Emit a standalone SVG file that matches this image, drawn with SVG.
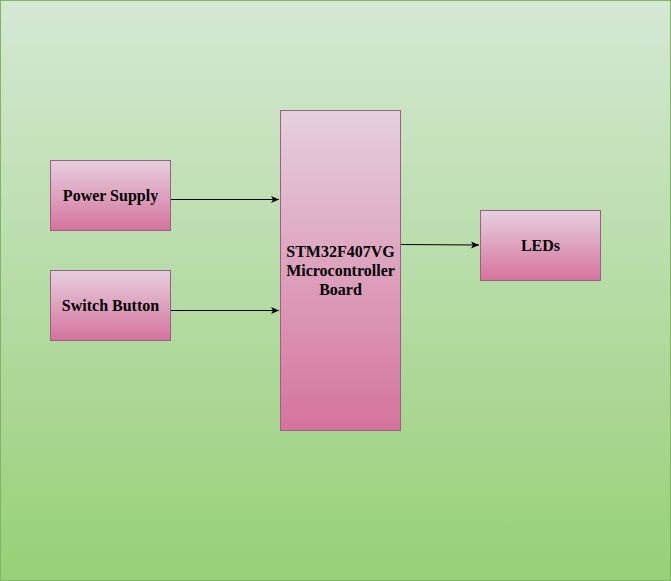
<svg xmlns="http://www.w3.org/2000/svg" width="671" height="581" viewBox="0 0 671 581">
<defs>
<linearGradient id="bg" x1="0" y1="0" x2="0" y2="1"><stop offset="0" stop-color="#d5e8d4"/><stop offset="1" stop-color="#97d077"/></linearGradient>
<linearGradient id="pk" x1="0" y1="0" x2="0" y2="1"><stop offset="0" stop-color="#e6d0de"/><stop offset="1" stop-color="#d5739d"/></linearGradient>
<marker id="ar" markerWidth="10" markerHeight="8" refX="9" refY="4" orient="auto" markerUnits="userSpaceOnUse"><path d="M1,0.5 L9,4 L1,7.5 L3,4 Z" fill="#000"/></marker>
<style>
.box{fill:url(#pk);stroke:#996185;stroke-width:1}
.t{font-family:"Liberation Serif","Times New Roman",serif;font-weight:bold;font-size:16px;fill:#000;text-anchor:middle}
.c{stroke:#000;stroke-width:1;fill:none;marker-end:url(#ar)}
</style>
</defs>
<rect x="0.5" y="0.5" width="670" height="580" fill="url(#bg)" stroke="#82b366"/>
<g id="connectors">
<path class="c" d="M170,199.5 L279,199.5"/>
<path class="c" d="M170,310.5 L279,310.5"/>
<path class="c" d="M400,244.5 L479,245"/>
</g>
<g id="power"><rect class="box" x="50.5" y="160.5" width="120" height="70"/><text class="t" x="110.5" y="201">Power Supply</text></g>
<g id="switch"><rect class="box" x="50.5" y="270.5" width="120" height="70"/><text class="t" x="110.5" y="311">Switch Button</text></g>
<g id="mcu"><rect class="box" x="280.5" y="110.5" width="120" height="320"/>
<text class="t" x="340.5" y="257">STM32F407VG</text>
<text class="t" x="340.5" y="276">Microcontroller</text>
<text class="t" x="340.5" y="295">Board</text></g>
<g id="leds"><rect class="box" x="480.5" y="210.5" width="120" height="70"/><text class="t" x="540.5" y="251">LEDs</text></g>
</svg>
